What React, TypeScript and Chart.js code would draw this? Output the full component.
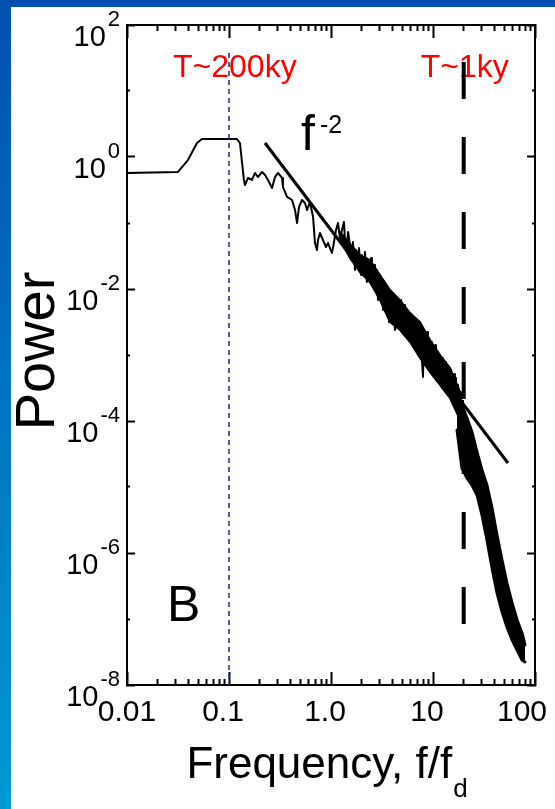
import React, { useEffect, useRef } from 'react';
import { Chart, registerables } from 'chart.js';

Chart.register(...registerables);

const FONT = '"Liberation Sans", Arial, Helvetica, sans-serif';

// ---- spectrum, low-frequency part (thin trace) ----
const lowFreq = [0.01, 0.0316, 0.0396, 0.0485, 0.0543, 0.1197, 0.128, 0.14, 0.1436, 0.1535, 0.168, 0.18, 0.192, 0.211, 0.2255, 0.241, 0.264, 0.2825, 0.302, 0.331, 0.338, 0.371, 0.415, 0.444, 0.465, 0.486, 0.52, 0.556, 0.582, 0.622, 0.667, 0.697, 0.729, 0.746, 0.78, 0.835, 0.893, 0.935, 1.02, 1.05];
const lowPower = [0.573, 0.593, 0.9, 1.63, 1.87, 1.87, 1.63, 0.449, 0.377, 0.481, 0.449, 0.573, 0.497, 0.593, 0.534, 0.449, 0.339, 0.497, 0.573, 0.481, 0.351, 0.248, 0.223, 0.157, 0.1, 0.175, 0.223, 0.201, 0.157, 0.208, 0.123, 0.0498, 0.039, 0.0552, 0.0705, 0.0552, 0.0433, 0.0498, 0.0351, 0.0433];

// ---- spectrum, noisy middle part (spiky trace) ----
const noisyFreq = [1.12, 1.17, 1.225, 1.28, 1.34, 1.37, 1.435, 1.47, 1.535, 1.61, 1.64, 1.72, 1.76, 1.84, 1.88, 1.97, 2.01, 2.11, 2.15, 2.25, 2.31, 2.41, 2.47, 2.52, 2.64, 2.7, 2.82, 2.89, 2.96, 3.02, 3.16, 3.24, 3.31, 3.46, 3.54, 3.62, 3.71, 3.87, 3.96, 4.06, 4.24, 4.34, 4.44, 4.64, 4.75, 4.86, 5.08, 5.2, 5.31, 5.56, 5.69, 5.82, 6.08, 6.22, 6.37, 6.66, 6.81, 6.97, 7.29, 7.46, 7.63, 7.98, 8.17, 8.54, 8.74, 8.93, 9.35, 9.56, 9.77, 10.2, 10.5, 10.7, 11.2, 11.5, 11.7, 12.3, 12.5, 12.8, 13.4, 13.7, 14.0, 14.7, 15.0, 15.4, 16.1, 16.4, 16.8, 17.2, 17.6, 18.4, 18.8, 19.2, 19.7];
const noisyPower = [0.0783, 0.1, 0.0593, 0.0783, 0.1035, 0.0552, 0.0433, 0.0731, 0.0464, 0.0305, 0.0515, 0.0194, 0.039, 0.0248, 0.0418, 0.0163, 0.0327, 0.0208, 0.0364, 0.0128, 0.0275, 0.0163, 0.0295, 0.0115, 0.0231, 0.00966, 0.0194, 0.0068, 0.0163, 0.00901, 0.0137, 0.00481, 0.0123, 0.0068, 0.00433, 0.01035, 0.00316, 0.00901, 0.00481, 0.00783, 0.00239, 0.00731, 0.00364, 0.00635, 0.00285, 0.0068, 0.00215, 0.00573, 0.00339, 0.00481, 0.00181, 0.00449, 0.00239, 0.00404, 0.00142, 0.00364, 0.00201, 0.00339, 0.00119, 0.00316, 0.00142, 0.000464, 0.00239, 0.001, 0.00223, 0.000705, 0.00169, 0.00084, 0.00157, 0.000552, 0.00142, 0.000418, 0.00111, 0.000498, 0.001, 0.000316, 0.000901, 0.000418, 0.000783, 0.000275, 0.00068, 0.000351, 0.000593, 0.000223, 0.000515, 0.000248, 0.000449, 0.000175, 0.000351, 0.000104, 0.000275, 6.58e-5, 0.000208];

// ---- spectrum, solid body of the noisy middle part (upper / lower envelope) ----
const midFreq = [1.225, 1.535, 1.92, 2.41, 3.02, 3.79, 4.75, 5.96, 7.46, 9.35, 11.7, 14.7, 18.4];
const midUpper = [0.0731, 0.0481, 0.0327, 0.0275, 0.0163, 0.00966, 0.0068, 0.00433, 0.00316, 0.00169, 0.001, 0.000635, 0.000275];
const midLower = [0.0552, 0.0295, 0.0181, 0.0128, 0.0068, 0.00316, 0.00239, 0.00157, 0.000901, 0.000552, 0.000351, 0.000223, 0.000104];

// ---- spectrum, dense high-frequency band (upper / lower envelope) ----
const bandFreq = [17.2, 19.2, 21.5, 24.1, 27.0, 30.2, 33.8, 37.9, 42.4, 47.5, 53.1, 59.6, 66.7, 74.6, 79.8];
const bandUpper = [2.23e-4, 1.75e-4, 1.11e-4, 6.81e-5, 3.39e-5, 1.81e-5, 1.07e-5, 4.81e-6, 1.87e-6, 7.83e-7, 3.51e-7, 1.75e-7, 9.66e-8, 6.14e-8, 4.04e-8];
const bandLower = [7.31e-5, 1.94e-5, 1.37e-5, 1.07e-5, 7.57e-6, 3.77e-6, 1.57e-6, 5.93e-7, 2.48e-7, 1.28e-7, 7.57e-8, 4.81e-8, 3.39e-8, 2.39e-8, 2.23e-8];

// ---- f^-2 reference line ----
const slopeFreq = [0.2255, 54.3];
const slopePower = [1.63, 2.31e-5];

// ---- period markers ----
const longPeriodFreq = [0.1, 0.1];
const longPeriodSpan = [37.7, 1e-8];
const shortPeriodFreq = [20, 20];
const shortPeriodSpan = [27.5, 7.6e-8];

// ---- axes ----
const xMin = 0.01;
const xMax = 100;
const yMin = 1e-8;
const yMax = 1e2;
const xTickValues = [0.01, 0.1, 1, 10, 100];
const xTickLabels = ['0.01', '0.1', '1.0', '10', '100'];
const yTickValues = [1e2, 1e0, 1e-2, 1e-4, 1e-6, 1e-8];
const yTickExponents = ['2', '0', '-2', '-4', '-6', '-8'];
const xMinorFactors = [1, 2, 3, 4, 5, 6, 7, 8, 9];

// ---- texts ----
const xTitle = 'Frequency, f/f';
const xTitleSub = 'd';
const yTitle = 'Power';
const longPeriodLabel = 'T~200ky';
const shortPeriodLabel = 'T~1ky';
const slopeLabel = 'f';
const slopeLabelExp = '-2';
const panelLabel = 'B';

function pts(xs: number[], ys: number[]) {
  return xs.map((x, i) => ({ x, y: ys[i] }));
}

// all tick positions of the log axes (decades + 2..9 subdivisions on x)
const xAllTicks: number[] = [];
for (let n = Math.log10(xMin); n <= Math.log10(xMax); n++) {
  for (const k of xMinorFactors) {
    const v = k * Math.pow(10, n);
    if (v <= xMax * 1.0001) xAllTicks.push(v);
  }
}
const yAllTicks: number[] = [];
for (let e = Math.log10(yMin); e <= Math.log10(yMax); e++) yAllTicks.push(Math.pow(10, e));

const isDecade = (v: number) => Math.abs(Math.log10(v) - Math.round(Math.log10(v))) < 1e-6;
const isEvenDecade = (v: number) => Math.round(Math.log10(v)) % 2 === 0;

// inward ticks drawn by Chart.js itself: negative tick length, minor ticks shortened with a dash pattern
function frameAxis(position: string, min: number, max: number, values: number[], majorLen: number, minorLen: number, isMajor: (v: number) => boolean) {
  const startsAtBorder = position === 'bottom' || position === 'right';
  const total = majorLen + 1;
  return {
    type: 'logarithmic',
    position,
    min,
    max,
    display: true,
    afterBuildTicks: (s: any) => {
      s.ticks = values.map((v) => ({ value: v }));
    },
    ticks: { display: false },
    border: { display: true, color: '#000000', width: 2 },
    grid: {
      display: true,
      drawOnChartArea: false,
      drawTicks: true,
      tickLength: -majorLen,
      tickWidth: 2,
      tickColor: '#000000',
      tickBorderDash: (c: any) => (c.tick && isMajor(c.tick.value) ? [] : [minorLen, total - minorLen]),
      tickBorderDashOffset: (c: any) => (c.tick && isMajor(c.tick.value) ? 0 : startsAtBorder ? 0 : minorLen),
    },
    // an empty title whose height cancels the negative tick length, so the axis box has zero size
    title: { display: true, text: '', padding: 0, font: { size: 10, lineHeight: majorLen / 10 } },
  };
}

const backgroundPlugin = {
  id: 'backgroundPlugin',
  beforeDraw(chart: any) {
    const { ctx, width, height } = chart;
    ctx.save();
    const g = ctx.createLinearGradient(0, 0, 0, height);
    g.addColorStop(0, '#0050b0');
    g.addColorStop(1, '#009ad3');
    ctx.fillStyle = g;
    ctx.fillRect(0, 0, width, height);
    ctx.fillStyle = '#ffffff';
    ctx.fillRect(11, 7, width - 11, height - 7);
    ctx.restore();
  },
  // red period labels sit under the marker lines
  beforeDatasetsDraw(chart: any) {
    const { ctx, chartArea: a } = chart;
    const xs = chart.scales.x;
    const T = Math.round(a.top);
    ctx.save();
    ctx.fillStyle = '#ff0000';
    ctx.font = `32px ${FONT}`;
    ctx.textAlign = 'left';
    ctx.textBaseline = 'alphabetic';
    ctx.fillText(longPeriodLabel, xs.getPixelForValue(longPeriodFreq[0]) - 56, T + 52);
    ctx.fillText(shortPeriodLabel, xs.getPixelForValue(shortPeriodFreq[0]) - 43, T + 52);
    ctx.restore();
  },
};

const textPlugin = {
  id: 'textPlugin',
  afterDraw(chart: any) {
    const { ctx, chartArea: a } = chart;
    const xs = chart.scales.x;
    const ys = chart.scales.y;
    const L = Math.round(a.left);
    const R = Math.round(a.right);
    const T = Math.round(a.top);
    const B = Math.round(a.bottom);
    ctx.save();
    ctx.fillStyle = '#000000';
    ctx.textBaseline = 'alphabetic';

    // x tick labels
    ctx.font = `30px ${FONT}`;
    ctx.textAlign = 'center';
    xTickValues.forEach((v, i) => {
      const lab = xTickLabels[i];
      const w = ctx.measureText(lab).width;
      let px = xs.getPixelForValue(v) - (i === 0 ? 0 : 6);
      px = Math.min(px, chart.width - 8 - w / 2);
      ctx.fillText(lab, px, B + 36);
    });

    // y tick labels 10^n
    yTickValues.forEach((v, i) => {
      const py = ys.getPixelForValue(v);
      const right = L - 7;
      ctx.textAlign = 'right';
      ctx.font = `22px ${FONT}`;
      const ew = ctx.measureText(yTickExponents[i]).width;
      ctx.fillText(yTickExponents[i], right, py + 1);
      ctx.font = `29px ${FONT}`;
      ctx.fillText('10', right - ew - 2, py + 21);
    });

    // y title
    ctx.save();
    ctx.font = `56px ${FONT}`;
    ctx.textAlign = 'center';
    ctx.translate(54, (T + B) / 2 - 4);
    ctx.rotate(-Math.PI / 2);
    ctx.fillText(yTitle, 0, 0);
    ctx.restore();

    // x title with subscript
    ctx.textAlign = 'left';
    ctx.font = `44px ${FONT}`;
    const w1 = ctx.measureText(xTitle).width;
    ctx.font = `26px ${FONT}`;
    const w2 = ctx.measureText(xTitleSub).width;
    const cx = (L + R) / 2 - 4;
    const sx = cx - (w1 + w2 + 1) / 2;
    ctx.font = `44px ${FONT}`;
    ctx.fillText(xTitle, sx, B + 93);
    ctx.font = `26px ${FONT}`;
    ctx.fillText(xTitleSub, sx + w1 + 1, B + 112);

    // f^-2 label
    ctx.font = `50px ${FONT}`;
    ctx.fillText(slopeLabel, 301, 150);
    ctx.font = `25px ${FONT}`;
    ctx.fillText(slopeLabelExp, 320, 133);

    // panel label
    ctx.font = `50px ${FONT}`;
    ctx.fillText(panelLabel, 167, 621);
    ctx.restore();
  },
};

export default function App() {
  const ref = useRef<HTMLCanvasElement>(null);
  useEffect(() => {
    const canvas = ref.current;
    if (!canvas) return;
    const line = (label: string, data: any[], extra: any) => ({
      label,
      data,
      showLine: true,
      borderColor: '#000',
      pointRadius: 0,
      fill: false,
      xAxisID: 'x',
      yAxisID: 'y',
      ...extra,
    });
    const chart = new Chart(canvas, {
      type: 'scatter',
      data: {
        datasets: [
          line('f^-2', pts(slopeFreq, slopePower), { borderWidth: 3 }),
          line('T~1ky', pts(shortPeriodFreq, shortPeriodSpan), { borderWidth: 4, borderDash: [37, 38] }),
          line('T~200ky', pts(longPeriodFreq, longPeriodSpan), { borderWidth: 1.6, borderDash: [5, 4], borderColor: '#1f3d8f' }),
          line('spectrum', pts(lowFreq, lowPower).concat(pts(noisyFreq, noisyPower)), { borderWidth: 2, borderJoinStyle: 'round' }),
          line('mid upper', pts(midFreq, midUpper), { borderWidth: 2 }),
          line('mid lower', pts(midFreq, midLower), { borderWidth: 2, fill: '-1', backgroundColor: '#000' }),
          line('band upper', pts(bandFreq, bandUpper), { borderWidth: 3, borderCapStyle: 'round' }),
          line('band lower', pts(bandFreq, bandLower), { borderWidth: 3, borderCapStyle: 'round', fill: '-1', backgroundColor: '#000' }),
        ],
      },
      options: {
        responsive: false,
        maintainAspectRatio: false,
        animation: false,
        devicePixelRatio: 1,
        events: [],
        layout: { padding: { left: 127, top: 25, right: 20, bottom: 124 } },
        plugins: { legend: { display: false }, tooltip: { enabled: false } },
        scales: {
          x: frameAxis('bottom', xMin, xMax, xAllTicks, 13, 7, isDecade),
          x2: frameAxis('top', xMin, xMax, xAllTicks, 13, 7, isDecade),
          y: frameAxis('left', yMin, yMax, yAllTicks, 8, 4, isEvenDecade),
          y2: frameAxis('right', yMin, yMax, yAllTicks, 8, 4, isEvenDecade),
        },
      },
      plugins: [backgroundPlugin, textPlugin],
    } as any);
    return () => chart.destroy();
  }, []);
  return (
    <div style={{ position: 'absolute', left: 0, top: 0, width: 555, height: 809 }}>
      <canvas ref={ref} width={555} height={809} style={{ display: 'block', width: 555, height: 809 }} />
    </div>
  );
}
